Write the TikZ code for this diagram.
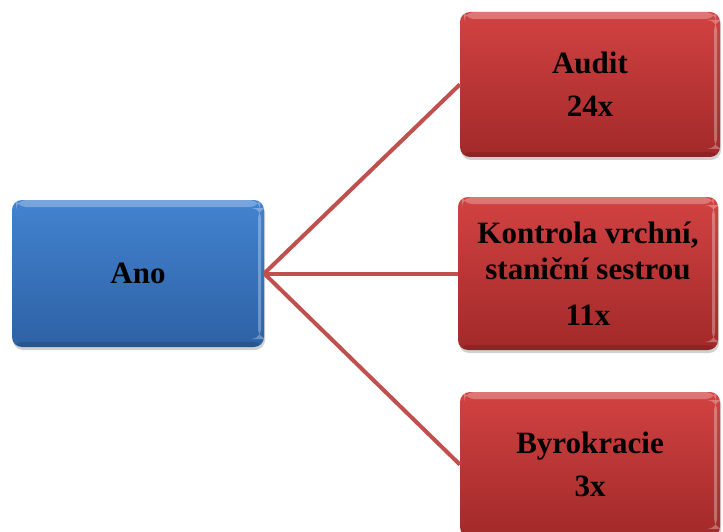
\documentclass[tikz,border=0pt]{standalone}
\usepackage{fontspec}
\setmainfont{Liberation Serif}
\usetikzlibrary{shadows}
\definecolor{bluetop}{HTML}{4383D0}
\definecolor{bluebot}{HTML}{2D61A4}
\definecolor{redtop}{HTML}{D24242}
\definecolor{redbot}{HTML}{A22929}
\definecolor{linkc}{HTML}{C0504D}
\tikzset{
  basebox/.style={rectangle, rounded corners=10pt, align=center,
    font=\bfseries\fontsize{31}{36}\selectfont, text=black,
    drop shadow={shadow xshift=1pt, shadow yshift=-3pt, opacity=0.3, fill=black!60},
    path picture={
      \fill[white, opacity=0.28] ([xshift=4pt]path picture bounding box.north west) rectangle ([xshift=-4pt,yshift=-7pt]path picture bounding box.north east);
      \fill[white, opacity=0.30] ([xshift=-6pt,yshift=-8pt]path picture bounding box.north east) rectangle ([xshift=-3pt,yshift=8pt]path picture bounding box.south east);
      \fill[black, opacity=0.12] ([yshift=5pt]path picture bounding box.south west) rectangle (path picture bounding box.south east);
    }},
  bluebox/.style={basebox, top color=bluetop, bottom color=bluebot},
  redbox/.style={basebox, top color=redtop, bottom color=redbot},
  link/.style={draw=linkc, line width=4pt}
}
\begin{document}
\begin{tikzpicture}[x=1pt,y=-1pt]
\useasboundingbox (0,0) rectangle (723,532);
\node[bluebox, minimum width=252pt, minimum height=147pt] (ano) at (138,273.5) {Ano};
\node[redbox, minimum width=260pt, minimum height=145pt] (audit) at (590,84.5) {Audit\\[7pt]24x};
\node[redbox, minimum width=260pt, minimum height=153pt] (kontrola) at (588,273.5) {Kontrola vrchní,\\staniční sestrou\\[10pt]11x};
\node[redbox, minimum width=260pt, minimum height=145pt] (byro) at (590,464.5) {Byrokracie\\[7pt]3x};
\draw[link] (ano.east) -- (audit.west);
\draw[link] (ano.east) -- (kontrola.west);
\draw[link] (ano.east) -- (byro.west);
\end{tikzpicture}
\end{document}
